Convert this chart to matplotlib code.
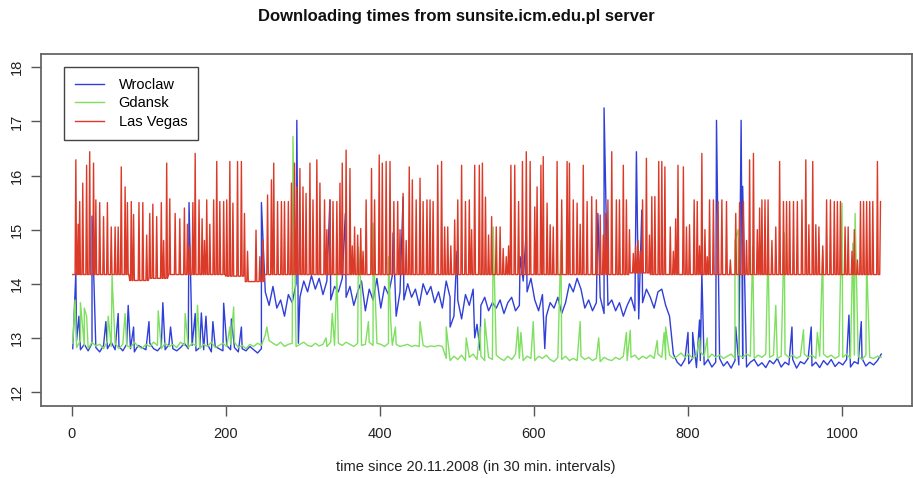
import matplotlib.pyplot as plt
import numpy as np

plt.rcParams['font.family'] = ['Liberation Sans', 'DejaVu Sans']

title = 'Downloading times from sunsite.icm.edu.pl server'
xlabel = 'time since 20.11.2008 (in 30 min. intervals)'
names = ['Wroclaw', 'Gdansk', 'Las Vegas']
colors = ['#2f3fd8', '#7fe060', '#dc3a28']

# Wroclaw and Gdansk, one reading every 5 intervals (t = 1, 6, 11, ...)
step_t = np.arange(1, 1052, 5)
wroclaw = [
    12.80, 12.95, 12.78, 12.88, 12.76, 12.90, 12.82, 12.74, 12.86, 12.80,
    12.92, 12.78, 12.84, 12.76, 12.88, 12.80, 12.74, 12.86, 12.82, 12.78,
    12.90, 12.80, 12.76, 12.84, 12.78, 12.88, 12.80, 12.76, 12.82, 12.90,
    12.80, 12.86, 12.76, 12.82, 12.78, 12.88, 12.74, 12.84, 12.80, 12.76,
    12.86, 12.78, 12.82, 12.74, 12.80, 12.76, 12.84, 12.78, 12.72, 12.80,
    13.85, 13.60, 13.95, 13.55, 13.70, 13.40, 13.80, 13.65, 14.00, 13.75,
    14.05, 13.85, 14.15, 13.90, 14.10, 13.80, 14.05, 13.70, 13.95, 13.85,
    14.10, 13.75, 13.95, 13.60, 13.85, 14.05, 13.50, 13.90, 13.70, 14.10,
    13.55, 13.95, 13.80, 14.15, 13.40, 13.85, 13.70, 14.00, 13.75, 13.90,
    13.60, 14.00, 13.80, 13.95, 13.65, 13.85, 13.55, 14.05, 13.75, 13.40,
    13.70, 13.35, 13.80, 13.60, 13.90, 13.25, 13.60, 13.75, 13.50, 13.65,
    13.55, 13.70, 13.45, 13.65, 13.75, 13.50, 13.60, 14.05, 13.85, 14.10,
    13.70, 13.50, 13.80, 13.40, 13.65, 13.55, 13.75, 13.45, 13.65, 14.00,
    13.85, 14.10, 13.90, 13.55, 13.70, 13.50, 13.65, 13.75, 13.45, 13.60,
    13.70, 13.50, 13.65, 13.40, 13.60, 13.75, 13.50, 13.35, 13.65, 13.90,
    13.75, 13.55, 13.85, 13.90, 13.60, 13.40, 12.70, 12.55, 12.48, 12.60,
    12.52, 12.62, 12.45, 12.58, 12.50, 12.60, 12.46, 12.55, 12.62, 12.48,
    12.56, 12.44, 12.58, 12.50, 12.62, 12.46, 12.55, 12.60, 12.48, 12.54,
    12.45, 12.58, 12.52, 12.62, 12.46, 12.55, 12.50, 12.60, 12.44, 12.56,
    12.52, 12.62, 12.48, 12.55, 12.45, 12.58, 12.50, 12.60, 12.47, 12.55,
    12.50, 12.60, 12.46, 12.56, 12.52, 12.62, 12.48, 12.55, 12.50, 12.58,
    12.70,
]
gdansk = [
    12.90, 12.82, 12.95, 12.86, 12.80, 12.92, 12.85, 12.88, 12.80, 12.94,
    12.84, 12.90, 12.80, 12.88, 12.86, 12.82, 12.92, 12.84, 12.80, 12.88,
    12.84, 12.92, 12.86, 12.80, 12.90, 12.84, 12.88, 12.82, 12.92, 12.86,
    12.82, 12.90, 12.85, 12.80, 12.88, 12.84, 12.92, 12.82, 12.86, 12.90,
    12.84, 12.88, 12.92, 12.82, 12.86, 12.80, 12.88, 12.84, 12.90, 12.86,
    13.05, 12.95, 12.90, 12.86, 12.92, 12.84, 12.88, 12.90, 12.84, 12.88,
    12.92, 12.86, 12.84, 12.90, 12.85, 12.88, 12.84, 12.92, 12.86, 12.90,
    12.86, 12.92, 12.88, 12.84, 12.90, 12.86, 12.88, 12.92, 12.86, 12.90,
    12.88, 12.84, 12.90, 12.86, 12.88, 12.84, 12.86, 12.88, 12.84, 12.86,
    12.84, 12.86, 12.83, 12.85, 12.84, 12.86, 12.84, 12.62, 12.58, 12.66,
    12.60, 12.68, 12.58, 12.64, 12.70, 12.60, 12.66, 12.58, 12.64, 12.60,
    12.68, 12.62, 12.58, 12.66, 12.60, 12.70, 12.62, 12.58, 12.66, 12.62,
    12.58, 12.66, 12.62, 12.68, 12.60, 12.56, 12.64, 12.60, 12.66, 12.58,
    12.62, 12.58, 12.66, 12.60, 12.64, 12.58, 12.62, 12.56, 12.64, 12.60,
    12.58, 12.64, 12.60, 12.66, 12.58, 12.64, 12.68, 12.60, 12.66, 12.62,
    12.68, 12.62, 12.70, 12.64, 12.60, 12.68, 12.62, 12.66, 12.72, 12.64,
    12.70, 12.62, 12.68, 12.74, 12.66, 12.62, 12.70, 12.64, 12.68, 12.62,
    12.66, 12.70, 12.62, 12.68, 12.64, 12.70, 12.66, 12.62, 12.68, 12.64,
    12.70, 12.64, 12.68, 12.62, 12.66, 12.70, 12.64, 12.68, 12.62, 12.66,
    12.70, 12.64, 12.68, 12.62, 12.66, 12.70, 12.64, 12.68, 12.62, 12.66,
    12.64, 12.70, 12.62, 12.68, 12.66, 12.60, 12.68, 12.64, 12.62, 12.66,
    12.64,
]

# short bursts between those readings: (interval, time)
wroclaw_peaks = [
    (5, 14.2), (9, 13.4), (26, 15.25), (44, 13.3), (60, 13.45), (73, 13.6),
    (80, 13.2), (100, 13.3), (118, 13.65), (128, 13.2), (152, 15.5),
    (160, 13.45), (168, 13.46), (174, 13.4), (183, 13.3), (197, 13.64),
    (207, 13.35), (220, 13.2), (246, 15.5), (292, 17.02), (294, 12.9),
    (335, 15.55), (355, 15.3), (417, 14.94), (430, 15.6), (491, 13.2),
    (500, 14.6), (523, 13.0), (530, 12.77), (582, 14.5), (590, 15.0),
    (614, 12.8), (683, 15.3), (691, 17.25), (733, 16.44), (740, 15.36),
    (800, 13.1), (806, 13.1), (815, 13.33), (818, 14.2), (837, 17.02),
    (862, 13.2), (869, 17.02), (871, 15.8), (935, 13.2), (960, 13.2),
    (1009, 13.42), (1025, 13.3),
]
gdansk_peaks = [
    (4, 13.7), (11, 13.65), (16, 13.55), (19, 13.4), (47, 13.4), (52, 14.16),
    (69, 13.45), (112, 13.5), (147, 13.45), (163, 13.6), (205, 13.2),
    (210, 13.57), (253, 13.2), (287, 16.72), (330, 13.0), (338, 13.45),
    (344, 14.2), (372, 14.68), (375, 14.0), (385, 13.3), (391, 15.12),
    (393, 14.1), (411, 14.5), (414, 13.3), (420, 13.2), (452, 13.3),
    (486, 13.2), (512, 13.0), (530, 13.2), (536, 13.35), (547, 15.05),
    (579, 13.2), (583, 13.1), (599, 13.3), (635, 14.8), (660, 13.3),
    (684, 13.0), (720, 13.1), (725, 13.14), (760, 12.95), (769, 13.1),
    (771, 13.2), (815, 13.0), (825, 13.0), (861, 14.8), (865, 15.0),
    (884, 14.68), (904, 14.68), (914, 13.6), (925, 14.94), (950, 13.15),
    (968, 13.1), (975, 14.62), (1000, 15.49), (1014, 14.75), (1017, 15.3),
    (1032, 14.44),
]

# Las Vegas sits on a flat floor (one level per 25 intervals) with frequent bursts
vegas_floor = [
    14.17, 14.17, 14.17, 14.06, 14.10, 14.17, 14.17, 14.17, 14.14, 14.04,
    14.17, 14.17, 14.17, 14.17, 14.17, 14.17, 14.17, 14.17, 14.17, 14.17,
    14.17, 14.17, 14.17, 14.17, 14.17, 14.17, 14.17, 14.17, 14.17, 14.20,
    14.17, 14.17, 14.17, 14.17, 14.17, 14.17, 14.17, 14.17, 14.17, 14.17,
    14.17, 14.17, 14.17,
]
vegas_peaks = [
    (5, 16.29), (8, 15.10), (10, 15.52), (14, 15.86), (19, 16.19), (23, 16.44),
    (28, 16.23), (31, 15.55), (36, 15.50), (41, 15.24), (46, 15.50),
    (51, 15.05), (56, 15.05), (60, 15.05), (64, 16.16), (69, 15.79),
    (72, 15.50), (77, 15.52), (80, 15.28), (87, 15.50), (92, 15.50),
    (97, 14.90), (101, 15.30), (105, 15.47), (110, 15.24), (116, 15.50),
    (119, 14.80), (123, 16.23), (127, 15.57), (134, 15.30), (140, 15.20),
    (146, 15.40), (150, 15.10), (153, 14.70), (157, 15.50), (160, 16.41),
    (165, 15.55), (169, 15.20), (172, 14.80), (175, 15.55), (179, 15.10),
    (184, 15.55), (188, 16.26), (192, 15.52), (197, 15.52), (201, 15.55),
    (205, 16.26), (209, 15.49), (215, 16.26), (220, 16.26), (224, 15.30),
    (228, 14.60), (239, 14.99), (244, 14.50), (248, 14.81), (254, 15.64),
    (259, 15.92), (262, 16.23), (267, 15.52), (272, 15.52), (276, 15.52),
    (281, 15.52), (285, 15.86), (289, 16.23), (292, 15.79), (296, 16.13),
    (300, 15.79), (304, 15.67), (309, 16.23), (313, 15.55), (318, 16.29),
    (322, 15.86), (328, 15.55), (331, 15.00), (335, 15.55), (339, 15.52),
    (344, 15.52), (348, 15.86), (351, 16.23), (356, 16.47), (361, 16.13),
    (364, 14.70), (367, 15.05), (371, 14.90), (375, 15.02), (378, 14.60),
    (382, 15.55), (389, 16.13), (393, 15.55), (399, 16.38), (403, 16.23),
    (408, 16.26), (413, 16.26), (418, 15.52), (423, 15.52), (426, 15.00),
    (430, 15.67), (434, 14.80), (438, 16.16), (442, 15.92), (447, 15.55),
    (452, 15.95), (456, 15.52), (461, 15.55), (465, 15.55), (469, 15.52),
    (475, 16.19), (480, 16.26), (484, 15.05), (488, 15.05), (492, 14.70),
    (497, 15.18), (501, 15.55), (506, 16.19), (511, 15.52), (516, 15.55),
    (519, 15.00), (523, 16.19), (529, 16.19), (533, 16.23), (537, 15.60),
    (541, 14.90), (545, 15.24), (551, 15.05), (556, 15.05), (560, 14.65),
    (564, 14.50), (567, 14.70), (570, 16.19), (575, 16.19), (580, 15.52),
    (585, 16.26), (590, 16.44), (595, 16.26), (601, 15.42), (604, 15.79),
    (609, 16.19), (612, 16.35), (617, 15.49), (621, 15.09), (625, 15.05),
    (630, 16.26), (636, 15.55), (643, 16.26), (646, 16.23), (651, 15.55),
    (656, 15.49), (660, 15.10), (664, 16.19), (669, 15.52), (675, 15.61),
    (681, 15.55), (686, 15.27), (690, 14.90), (693, 15.30), (696, 15.55),
    (701, 16.44), (707, 15.55), (711, 15.55), (716, 16.19), (720, 15.55),
    (724, 15.00), (729, 14.56), (732, 14.70), (735, 14.80), (738, 14.60),
    (741, 15.55), (746, 16.32), (750, 14.90), (753, 15.61), (757, 15.61),
    (762, 16.26), (766, 16.26), (770, 16.16), (777, 15.05), (781, 14.60),
    (784, 15.20), (787, 16.19), (794, 16.16), (798, 15.05), (802, 15.09),
    (808, 15.55), (812, 15.52), (815, 14.70), (818, 16.41), (822, 15.00),
    (825, 14.50), (828, 15.55), (833, 15.55), (839, 15.52), (844, 15.55),
    (850, 15.52), (855, 14.44), (862, 15.30), (867, 15.50), (872, 15.52),
    (876, 14.80), (880, 16.29), (885, 16.41), (890, 15.00), (893, 15.40),
    (896, 15.55), (900, 15.55), (904, 15.55), (909, 14.80), (914, 15.05),
    (919, 16.26), (924, 15.52), (928, 15.52), (932, 15.52), (937, 15.52),
    (942, 15.52), (948, 15.55), (953, 16.29), (957, 15.09), (962, 16.26),
    (966, 15.09), (970, 15.05), (975, 14.70), (980, 15.55), (985, 15.55),
    (990, 15.52), (994, 15.52), (998, 15.52), (1004, 15.05), (1008, 15.05),
    (1013, 14.60), (1016, 15.00), (1020, 14.44), (1024, 15.52), (1028, 15.52),
    (1032, 15.52), (1036, 15.52), (1040, 15.52), (1046, 16.26), (1050, 15.52),
]


def merge(t, v, peaks):
    pt, pv = zip(*peaks)
    tt = np.concatenate([t, pt])
    vv = np.concatenate([v, pv])
    order = np.argsort(tt, kind='stable')
    return tt[order], vv[order]


wro_t, wro_v = merge(step_t, wroclaw, wroclaw_peaks)
gda_t, gda_v = merge(step_t, gdansk, gdansk_peaks)

vegas_t = np.arange(1, 1051)
vegas_v = np.array([vegas_floor[t // 25] for t in vegas_t])
for t, v in vegas_peaks:
    vegas_v[t - 1] = v

fig = plt.figure(figsize=(9.13, 4.78), dpi=100)
ax = fig.add_axes([0.0446, 0.1506, 0.9543, 0.7364])

ax.plot(wro_t, wro_v, color=colors[0], lw=1.0, label=names[0])
ax.plot(gda_t, gda_v, color=colors[1], lw=1.0, label=names[1])
ax.plot(vegas_t, vegas_v, color=colors[2], lw=1.0, label=names[2])

ax.set_xlim(-40.6, 1090.9)
ax.set_ylim(11.74, 18.246)
ax.set_xticks([0, 200, 400, 600, 800, 1000])
ax.set_yticks([12, 13, 14, 15, 16, 17, 18])
ax.tick_params(axis='both', labelsize=10.5, length=7, width=1.0,
               color='#555555', labelcolor='#222222')
ax.tick_params(axis='x', pad=8)
ax.tick_params(axis='y', pad=5)
plt.setp(ax.get_yticklabels(), rotation=90, va='center')
for sp in ax.spines.values():
    sp.set_color('#666666')
    sp.set_linewidth(1.3)

leg = ax.legend(loc='upper left', bbox_to_anchor=(0.0267, 0.963),
                borderaxespad=0, fancybox=False, framealpha=1,
                edgecolor='#444444', fontsize=10.5, handlelength=2.0,
                handletextpad=1.0, labelspacing=0.3, borderpad=0.75)
leg.get_frame().set_linewidth(1.0)

fig.text(0.5, 1 - 17 / 478, title, ha='center', va='center',
         fontsize=12, fontweight='bold', color='#111111')
fig.text(476 / 913, 1 - 467 / 478, xlabel, ha='center', va='center',
         fontsize=10.5, color='#222222')

fig.savefig('out.png', dpi=100)
